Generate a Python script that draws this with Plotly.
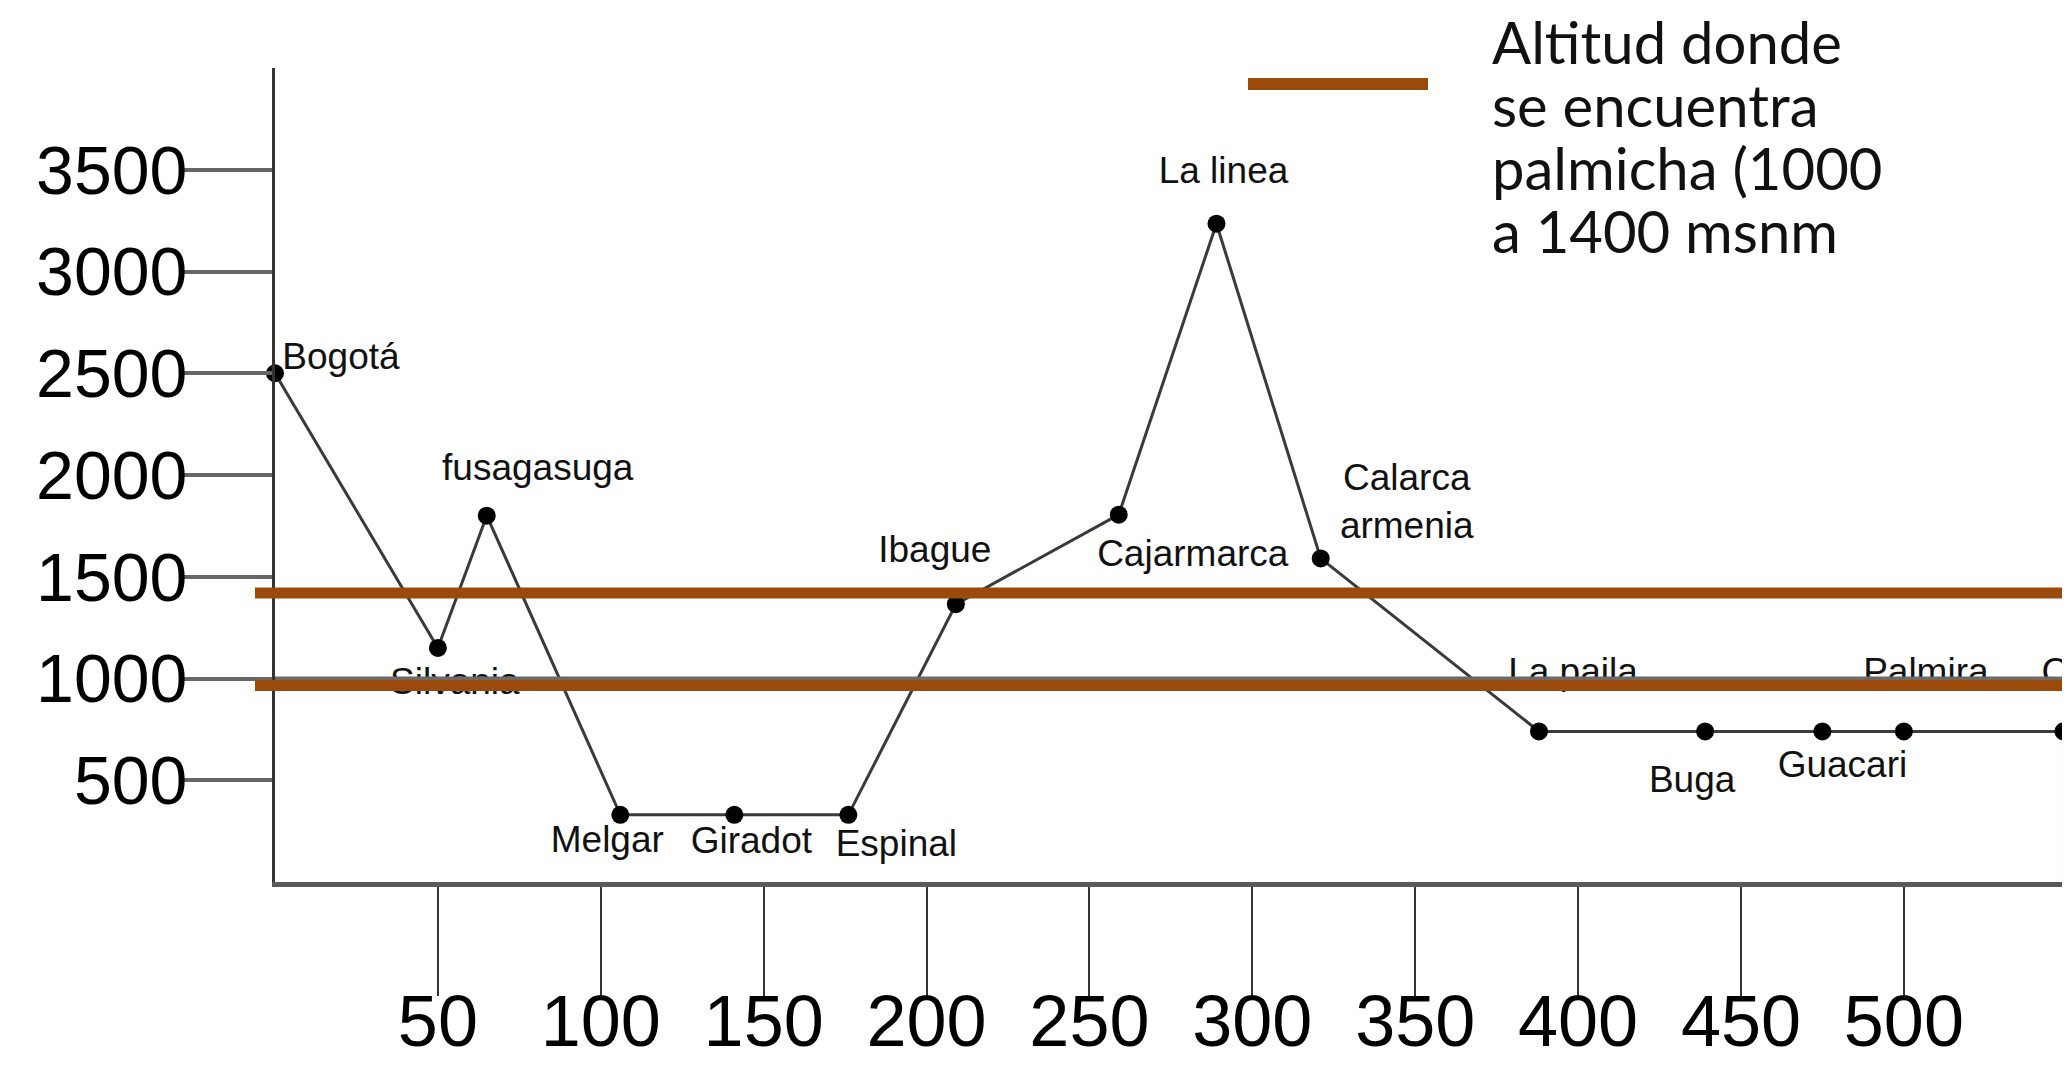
import plotly.graph_objects as go

# ---- data ----
lugares = ["Bogotá", "Silvania", "fusagasuga", "Melgar", "Giradot", "Espinal", "Ibague",
           "Cajarmarca", "La linea", "Calarca<br>armenia", "La paila", "Buga", "Guacari",
           "Palmira", "Cali"]
distancia_km = [0, 50, 65, 106, 141, 176, 209, 259, 289, 321, 388, 439, 475, 500, 549]
altitud_msnm = [2500, 1150, 1800, 330, 330, 330, 1365, 1805, 3235, 1590, 740, 740, 740, 740, 740]
x_ticks = [50, 100, 150, 200, 250, 300, 350, 400, 450, 500]
y_ticks = [500, 1000, 1500, 2000, 2500, 3000, 3500]
palmicha_min = 965
palmicha_max = 1420
legend_lines = ["Altitud donde", "se encuentra", "palmicha (1000", "a 1400 msnm"]

# ---- layout geometry (pixels) ----
O = 8                      # page body margin offset
W, H = 2070 - O, 1082 - O
ML, MR, MT, MB = 275 - O, 0, 60, 200
X_RANGE = [0, 551]
Y_RANGE = [0, 4000]
PW, PH = W - ML - MR, H - MT - MB
px_per_x = PW / (X_RANGE[1] - X_RANGE[0])
px_per_y = PH / (Y_RANGE[1] - Y_RANGE[0])


def paper_x(page_px):
    return (page_px - O - ML) / PW


def paper_y(page_px):
    return 1 + (MT - (page_px - O)) / PH


# label offsets in pixels (dx right, dy down) relative to each point, and anchoring
label_offsets = [(66, -14), (17, 37), (51, -45), (-13, 28), (17, 29), (48, 32), (-21, -51),
                 (74, 42), (7, -50), (86, -54), (34, -57), (-13, 51), (20, 36), (22, -57), (-22, -57)]
label_positions = ["middle center"] * 14 + ["middle right"]

BROWN = "#9A4A0A"
FONT = "Liberation Sans, Arial, sans-serif"

fig = go.Figure()

fig.add_trace(go.Scatter(
    x=distancia_km, y=altitud_msnm, mode="lines+markers",
    line=dict(color="#3a3a3a", width=3),
    marker=dict(color="black", size=18),
    hoverinfo="skip", showlegend=False, cliponaxis=False,
))

lx = [x + dx / px_per_x for x, (dx, dy) in zip(distancia_km, label_offsets)]
ly = [y - dy / px_per_y for y, (dx, dy) in zip(altitud_msnm, label_offsets)]
fig.add_trace(go.Scatter(
    x=lx, y=ly, mode="text", text=lugares, textposition=label_positions,
    textfont=dict(family=FONT, size=37, color="#111111"),
    hoverinfo="skip", showlegend=False, cliponaxis=False,
))

shapes = []
# gray line at 1000
shapes.append(dict(type="line", xref="paper", yref="y", x0=0, x1=1, y0=1000, y1=1000,
                   line=dict(color="#6a6a6a", width=4), layer="above"))
# right frame from Cali point to axis
shapes.append(dict(type="line", xref="x", yref="y", x0=distancia_km[-1], x1=distancia_km[-1],
                   y0=0, y1=altitud_msnm[-1], line=dict(color="#555555", width=3), layer="below"))
# palmicha band lines
shapes.append(dict(type="line", xref="paper", yref="y", x0=paper_x(255), x1=paper_x(2062),
                   y0=palmicha_max, y1=palmicha_max, line=dict(color=BROWN, width=11), layer="above"))
shapes.append(dict(type="line", xref="paper", yref="y", x0=paper_x(255), x1=1.0,
                   y0=palmicha_min, y1=palmicha_min, line=dict(color=BROWN, width=11), layer="above"))
# legend sample
shapes.append(dict(type="line", xref="paper", yref="paper",
                   x0=paper_x(1248), x1=paper_x(1428), y0=paper_y(84), y1=paper_y(84),
                   line=dict(color=BROWN, width=12)))

annotations = []
line_centers = [42, 104, 167, 231]
for txt, cy in zip(legend_lines, line_centers):
    annotations.append(dict(
        text=txt, xref="paper", yref="paper", showarrow=False,
        x=paper_x(1490), xanchor="left", y=paper_y(cy), yanchor="middle",
        font=dict(family="Lato, Open Sans, sans-serif", size=58, color="#111111"),
    ))

fig.update_layout(
    width=W, height=H,
    margin=dict(l=ML, r=MR, t=MT, b=MB, pad=0, autoexpand=False),
    plot_bgcolor="white", paper_bgcolor="white",
    shapes=shapes, annotations=annotations,
    xaxis=dict(range=X_RANGE, tickvals=x_ticks, ticktext=[str(v) for v in x_ticks],
               automargin=False,
               showgrid=False, zeroline=False, showline=True, linecolor="#5a5a5a", linewidth=5,
               ticks="outside", ticklen=109, tickwidth=2, tickcolor="#333333",
               ticklabelstandoff=-36,
               tickfont=dict(family=FONT, size=72, color="black")),
    yaxis=dict(range=Y_RANGE, tickvals=y_ticks, ticktext=[str(v) for v in y_ticks],
               automargin=False,
               showgrid=False, zeroline=False, showline=True, linecolor="#333333", linewidth=3,
               ticks="outside", ticklen=88, tickwidth=4, tickcolor="#666666",
               ticklabelstandoff=-17,
               tickfont=dict(family=FONT, size=68, color="black")),
)

fig.write_html("out.html")
